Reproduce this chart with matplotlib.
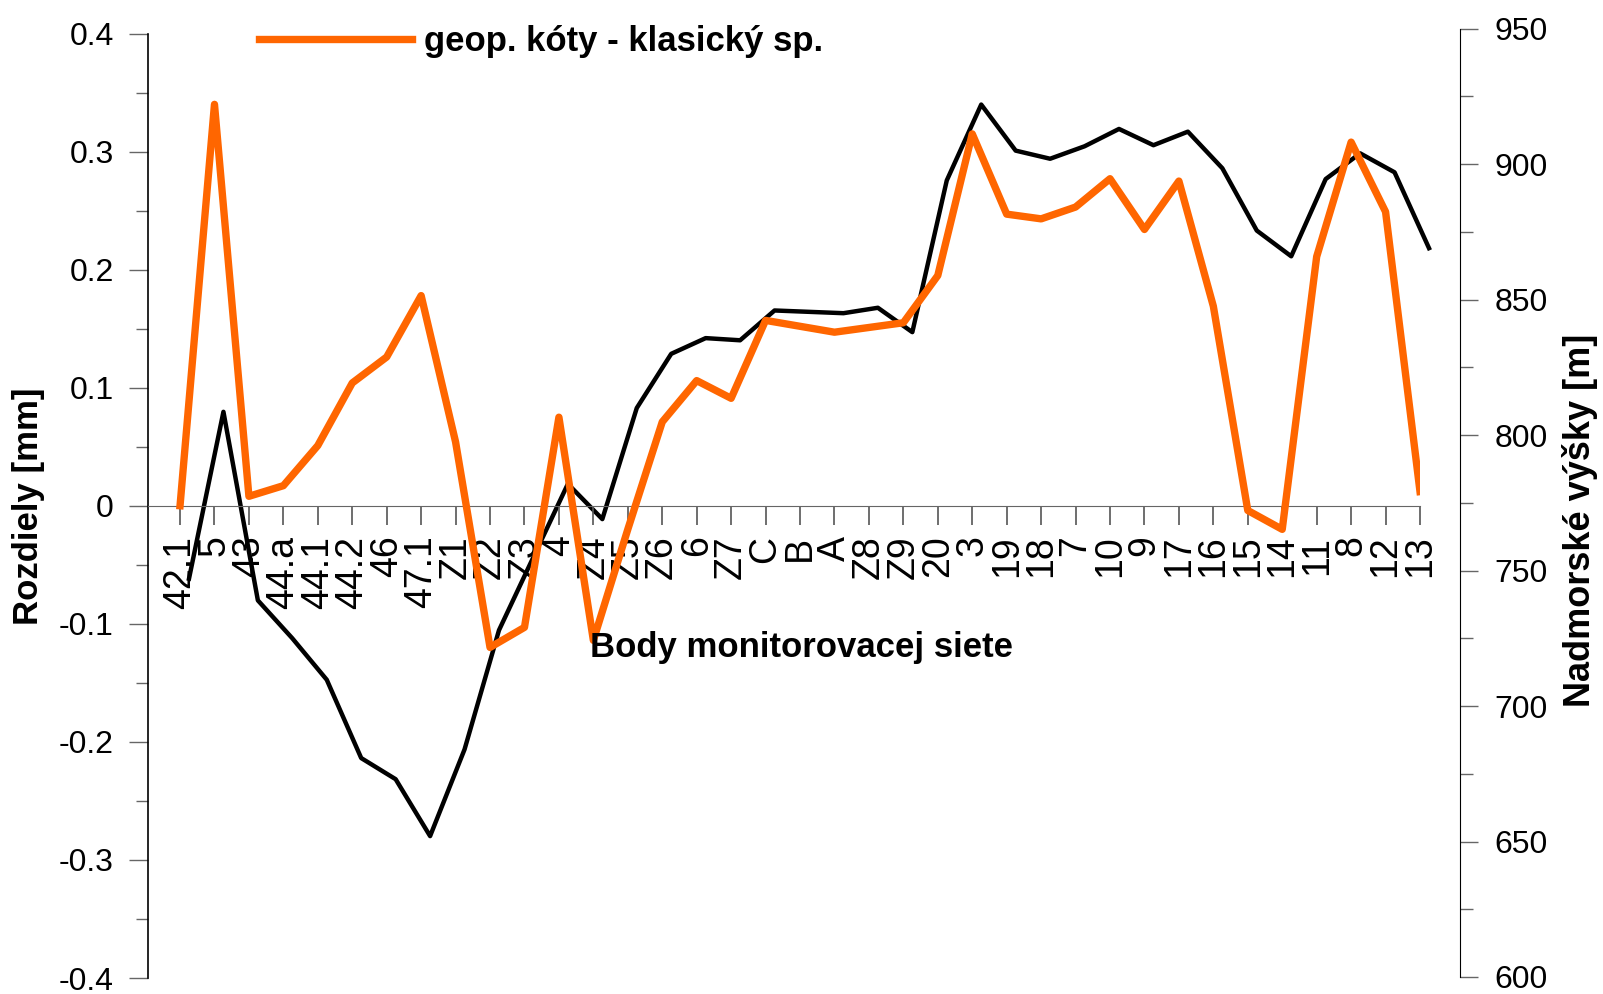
import matplotlib
matplotlib.use('Agg')
import matplotlib.pyplot as plt
from matplotlib.ticker import MultipleLocator

body = ['42.1', '5', '43', '44.a', '44.1', '44.2', '46', '47.1', 'Z1', 'Z2', 'Z3', '4',
        'Z4', 'Z5', 'Z6', '6', 'Z7', 'C', 'B', 'A', 'Z8', 'Z9', '20', '3', '19', '18',
        '7', '10', '9', '17', '16', '15', '14', '11', '8', '12', '13']

# rozdiely geop. koty - klasicky sposob [mm]
rozdiely = [0.0, 0.340, 0.008, 0.017, 0.051, 0.104, 0.126, 0.178, 0.054, -0.120, -0.103, 0.075,
            -0.114, -0.020, 0.071, 0.106, 0.091, 0.157, 0.152, 0.147, 0.151, 0.155, 0.195, 0.315,
            0.247, 0.243, 0.253, 0.277, 0.234, 0.275, 0.169, -0.004, -0.020, 0.211, 0.308, 0.249,
            0.012]

# nadmorske vysky bodov [m]
vysky = [747, 808.6, 739, 725, 709.7, 680.8, 673, 652, 684, 728, 755, 782,
         769, 810, 830, 835.8, 835, 846, 845.5, 845, 847, 838, 894, 922,
         905, 902, 906.6, 913, 907, 912, 898.5, 875.5, 866, 894.5, 904, 897,
         869]

W, H = 1603, 994


def rect(x0, y0, x1, y1):
    return [x0 / W, 1 - y1 / H, (x1 - x0) / W, (y1 - y0) / H]


plt.rcParams['font.family'] = ['Liberation Sans', 'DejaVu Sans']

fig = plt.figure(figsize=(W / 100, H / 100), dpi=100)
x = list(range(len(body)))

# lava os - rozdiely
ax = fig.add_axes(rect(148, 33.5, 1420, 978))
ax.plot(x, rozdiely, color='#FF6600', lw=5.3, label='geop. kóty - klasický sp.', zorder=3)
ax.set_xlim(-0.93, 36)
ax.set_ylim(-0.4, 0.4)
ax.spines['top'].set_visible(False)
ax.spines['right'].set_visible(False)
ax.spines['bottom'].set_position(('data', 0))
ax.spines['bottom'].set_color('#666666')
ax.spines['left'].set_linewidth(1.2)
ax.set_xticks(x)
ax.set_xticklabels(body, rotation=90, fontsize=27)
ax.tick_params(axis='x', length=13.5, width=1.2, color='#555555', pad=8)
ax.set_yticks([i / 10 for i in range(-4, 5)])
ax.set_yticklabels(['-0.4', '-0.3', '-0.2', '-0.1', '0', '0.1', '0.2', '0.3', '0.4'], fontsize=23)
ax.yaxis.set_minor_locator(MultipleLocator(0.05))
ax.tick_params(axis='y', which='major', length=13.5, width=1.0, pad=11, color='#666666')
ax.tick_params(axis='y', which='minor', length=8.6, width=1.0, color='#666666')
ax.patch.set_alpha(0)

# prava os - nadmorske vysky
ax2 = fig.add_axes(rect(148, 28.7, 1460, 977))
ax2.plot(x, vysky, color='black', lw=3.2, zorder=2)
ax2.set_xlim(-1.19, 36.9)
ax2.set_ylim(600, 950)
for s in ['top', 'left', 'bottom']:
    ax2.spines[s].set_visible(False)
ax2.set_xticks([])
ax2.yaxis.tick_right()
ax2.yaxis.set_major_locator(MultipleLocator(50))
ax2.yaxis.set_minor_locator(MultipleLocator(25))
ax2.tick_params(axis='y', which='major', labelsize=23, length=12.7, width=1.0, pad=12,
                color='#666666')
ax2.tick_params(axis='y', which='minor', length=9, width=1.0, color='#666666')
ax2.patch.set_alpha(0)
ax.set_zorder(ax2.get_zorder() + 1)

fig.text(29 / W, 1 - 506 / H, 'Rozdiely [mm]', rotation=90, ha='center', va='center',
         fontsize=25, fontweight='bold')
fig.text(1580 / W, 1 - 520 / H, 'Nadmorské výšky [m]', rotation=90, ha='center', va='center',
         fontsize=26, fontweight='bold')
fig.text(801 / W, 1 - 647 / H, 'Body monitorovacej siete', ha='center', va='center',
         fontsize=25, fontweight='bold')

ax.legend(loc='center left', bbox_to_anchor=(259 / W, 1 - 42 / H),
          bbox_transform=fig.transFigure, frameon=False, handlelength=4.4,
          handletextpad=0.35, borderaxespad=0, borderpad=0,
          prop={'weight': 'bold', 'size': 25})

fig.savefig('out.png', dpi=100)
